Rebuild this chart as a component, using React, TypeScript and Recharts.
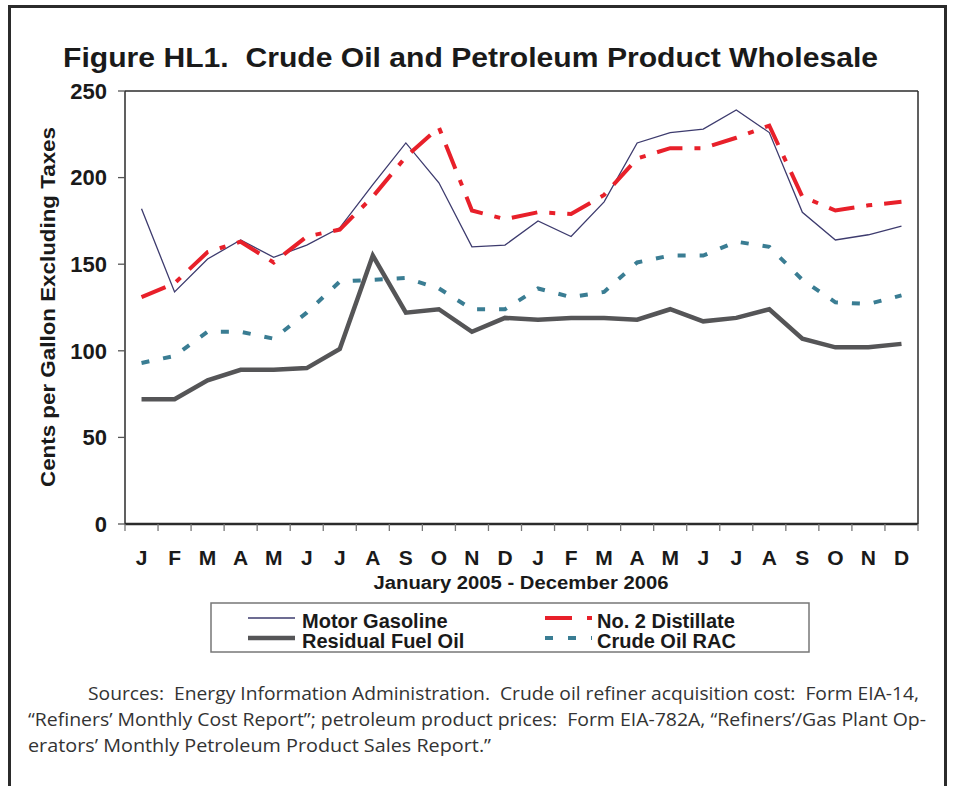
import React from 'react';
import { LineChart, Line, XAxis, YAxis, ReferenceLine } from 'recharts';

const MONTHS = [
  'J', 'F', 'M', 'A', 'M', 'J', 'J', 'A', 'S', 'O', 'N', 'D',
  'J', 'F', 'M', 'A', 'M', 'J', 'J', 'A', 'S', 'O', 'N', 'D',
];

// cents per gallon, Jan 2005 - Dec 2006
const motorGasoline = [182, 134, 153, 164, 154, 161, 171, 196, 220, 197, 160, 161, 175, 166, 186, 220, 226, 228, 239, 226, 180, 164, 167, 172];
const distillate = [131, 139, 157, 163, 151, 166, 170, 189, 212, 229, 181, 176, 180, 179, 190, 211, 217, 217, 223, 230, 189, 181, 184, 186];
const residual = [72, 72, 83, 89, 89, 90, 101, 155, 122, 124, 111, 119, 118, 119, 119, 118, 124, 117, 119, 124, 107, 102, 102, 104];
const crudeRAC = [93, 97, 111, 111, 107, 122, 140, 141, 142, 136, 124, 124, 136, 131, 134, 151, 155, 155, 163, 160, 141, 128, 127, 132];

const Y_TICKS = [0, 50, 100, 150, 200, 250];
const X_TICKS = Array.from({ length: 25 }, (_, i) => i);

const SERIES = [
  { key: 'gas', name: 'Motor Gasoline', color: '#3d3b6e', width: 1.3, dash: undefined, legendDash: undefined },
  { key: 'dist', name: 'No. 2 Distillate', color: '#e8202a', width: 4, dash: '26 12 6 12', legendDash: '27 15 5' },
  { key: 'resid', name: 'Residual Fuel Oil', color: '#555557', width: 4.5, dash: undefined, legendDash: undefined },
  { key: 'crude', name: 'Crude Oil RAC', color: '#3a7d93', width: 4, dash: '8 14', legendDash: '8 15' },
];

const data = MONTHS.map((m, i) => ({
  x: i + 0.5,
  month: m,
  gas: motorGasoline[i],
  dist: distillate[i],
  resid: residual[i],
  crude: crudeRAC[i],
}));

const FONT = '"Liberation Sans", Arial, Helvetica, sans-serif';
const W = 957;
const CHART_H = 600;
const PLOT_LEFT = 125;
const PLOT_RIGHT = 918;
const PLOT_TOP = 91;
const PLOT_BOTTOM = 524;
const BAND = (PLOT_RIGHT - PLOT_LEFT) / MONTHS.length;

const MonthTick = (props: any) => {
  const { x, y, payload } = props;
  if (payload.value >= MONTHS.length) return null;
  return (
    <text
      x={x + BAND / 2}
      y={y}
      dy="0.71em"
      textAnchor="middle"
      fontFamily={FONT}
      fontWeight="bold"
      fontSize={21}
      fill="#1a1a1a"
    >
      {MONTHS[payload.value]}
    </text>
  );
};

const legendPos = [
  { x: 248, y: 618 },
  { x: 545, y: 618 },
  { x: 248, y: 638 },
  { x: 545, y: 638 },
];

const App = () => {
  return (
    <div
      style={{
        position: 'absolute',
        left: 0,
        top: 0,
        width: W,
        height: 786,
        overflow: 'hidden',
        background: '#fff',
      }}
    >
      <div
        style={{
          position: 'absolute',
          left: 8,
          top: 5,
          width: 939,
          height: 820,
          border: '3px solid #2b2b2b',
          boxSizing: 'border-box',
        }}
      />
      <div style={{ position: 'absolute', left: 0, top: 0 }}>
        <LineChart
          width={W}
          height={CHART_H}
          data={data}
          margin={{
            top: PLOT_TOP,
            right: W - PLOT_RIGHT,
            left: PLOT_LEFT - 60,
            bottom: CHART_H - PLOT_BOTTOM - 30,
          }}
        >
          <XAxis
            dataKey="x"
            type="number"
            domain={[0, 24]}
            ticks={X_TICKS}
            interval={0}
            height={30}
            tickSize={7}
            tickMargin={19}
            tick={<MonthTick />}
            axisLine={{ stroke: '#2b2b2b', strokeWidth: 2.5 }}
            tickLine={{ stroke: '#777', strokeWidth: 1.3 }}
          />
          <YAxis
            type="number"
            domain={[0, 250]}
            ticks={Y_TICKS}
            interval={0}
            width={60}
            tickSize={7}
            tickMargin={11}
            tick={{ fontFamily: FONT, fontWeight: 'bold', fontSize: 22, fill: '#1a1a1a' }}
            axisLine={{ stroke: '#2b2b2b', strokeWidth: 1.5 }}
            tickLine={{ stroke: '#555', strokeWidth: 1.3 }}
          />
          <ReferenceLine y={250} stroke="#2b2b2b" strokeWidth={1.5} />
          <ReferenceLine x={24} stroke="#2b2b2b" strokeWidth={1.5} />
          {SERIES.map((s) => (
            <Line
              key={s.key}
              type="linear"
              dataKey={s.key}
              name={s.name}
              stroke={s.color}
              strokeWidth={s.width}
              strokeDasharray={s.dash}
              dot={false}
              activeDot={false}
              isAnimationActive={false}
            />
          ))}
        </LineChart>
      </div>
      <svg
        width={W}
        height={786}
        style={{ position: 'absolute', left: 0, top: 0, pointerEvents: 'none' }}
      >
        <text
          x={63}
          y={67}
          fontFamily={FONT}
          fontWeight="bold"
          fontSize={27}
          fill="#1a1a1a"
          textLength={815}
          lengthAdjust="spacingAndGlyphs"
          style={{ whiteSpace: 'pre' }}
        >
          Figure HL1.  Crude Oil and Petroleum Product Wholesale
        </text>
        <text
          transform="translate(55, 307) rotate(-90)"
          textAnchor="middle"
          fontFamily={FONT}
          fontWeight="bold"
          fontSize={21}
          fill="#1a1a1a"
          textLength={360}
          lengthAdjust="spacingAndGlyphs"
        >
          Cents per Gallon Excluding Taxes
        </text>
        <text
          x={521}
          y={589}
          textAnchor="middle"
          fontFamily={FONT}
          fontWeight="bold"
          fontSize={18}
          fill="#1a1a1a"
          textLength={295}
          lengthAdjust="spacingAndGlyphs"
        >
          January 2005 - December 2006
        </text>

        {/* legend */}
        <rect x={211} y={603} width={598} height={49} fill="none" stroke="#777" strokeWidth={1.5} />
        {SERIES.map((s, i) => (
          <g key={s.key}>
            <line
              x1={legendPos[i].x}
              x2={legendPos[i].x + 47}
              y1={legendPos[i].y}
              y2={legendPos[i].y}
              stroke={s.color}
              strokeWidth={s.width}
              strokeDasharray={s.legendDash}
            />
            <text
              x={legendPos[i].x + (i % 2 === 0 ? 54 : 52)}
              y={legendPos[i].y + 10}
              fontFamily={FONT}
              fontWeight="bold"
              fontSize={20}
              fill="#1a1a1a"
            >
              {s.name}
            </text>
          </g>
        ))}

        {/* sources note */}
        <g fontFamily='"Open Sans", "DejaVu Sans", sans-serif' fontSize={17.5} fill="#333">
          <text x={88} y={700} textLength={831} lengthAdjust="spacingAndGlyphs" style={{ whiteSpace: 'pre' }}>
            Sources:  Energy Information Administration.  Crude oil refiner acquisition cost:  Form EIA-14,
          </text>
          <text x={28} y={726} textLength={898} lengthAdjust="spacingAndGlyphs" style={{ whiteSpace: 'pre' }}>
            “Refiners’ Monthly Cost Report”; petroleum product prices:  Form EIA-782A, “Refiners’/Gas Plant Op-
          </text>
          <text x={28} y={752} textLength={463} lengthAdjust="spacingAndGlyphs" style={{ whiteSpace: 'pre' }}>
            erators’ Monthly Petroleum Product Sales Report.”
          </text>
        </g>
      </svg>
    </div>
  );
};

export default App;
